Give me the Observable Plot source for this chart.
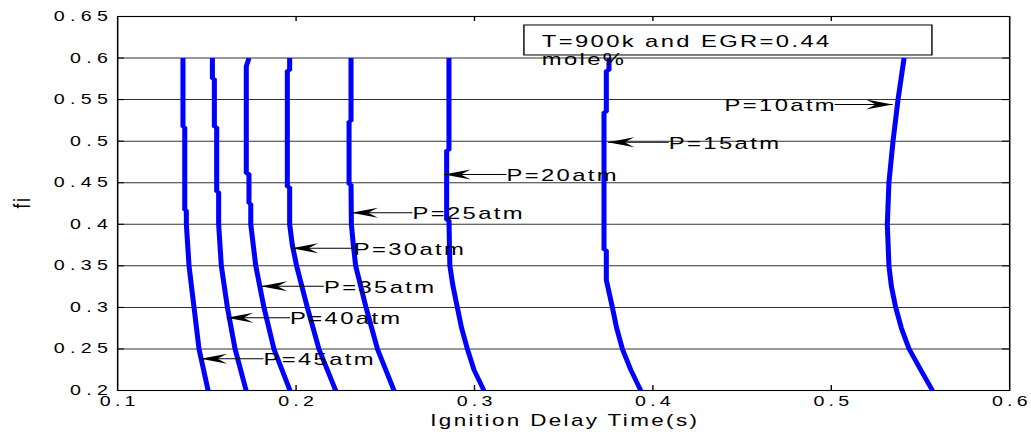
<!DOCTYPE html>
<html><head><meta charset="utf-8">
<script src="https://cdn.jsdelivr.net/npm/d3@7"></script>
<script src="https://cdn.jsdelivr.net/npm/@observablehq/plot@0.6"></script>
<style>
body{margin:0;background:#fff;overflow:hidden;}
#chart svg{display:block;}
#chart text{letter-spacing:1.7px;}
#chart g[aria-label="y-axis tick label"] text{letter-spacing:3.8px;}
#chart g[aria-label="x-axis tick label"] text{letter-spacing:3px;}
#chart g[aria-label="axis-title"] text{letter-spacing:1.7px;}
</style></head><body><div id="chart"></div>
<script>
// ---- data ----
const seriesNames = ["P=10atm","P=15atm","P=20atm","P=25atm","P=30atm","P=35atm","P=40atm","P=45atm"];

const phi10 = [0.6,0.55,0.5,0.45,0.4,0.35,0.325,0.3,0.275,0.25,0.225,0.2];
const tau10 = [0.5408,0.5374,0.5346,0.5323,0.5314,0.5323,0.5337,0.5361,0.5393,0.5436,0.5501,0.5567];

const phi15 = [0.6,0.585,0.585,0.535,0.535,0.369,0.369,0.333,0.3,0.275,0.25,0.225,0.2];
const tau15 = [0.3754,0.3754,0.3739,0.3739,0.3726,0.3726,0.3739,0.3739,0.3773,0.3797,0.3829,0.3876,0.3932];

const phi20 = [0.6,0.489,0.489,0.405,0.405,0.35,0.325,0.3,0.275,0.25,0.225,0.2];
const tau20 = [0.2857,0.2857,0.2844,0.2844,0.2857,0.2862,0.2880,0.2904,0.2928,0.2960,0.2997,0.3053];

const phi25 = [0.6,0.524,0.524,0.448,0.448,0.4,0.375,0.35,0.3,0.25,0.2];
const tau25 = [0.2308,0.2308,0.2297,0.2297,0.2308,0.2310,0.2321,0.2334,0.2392,0.2456,0.2549];

const phi30 = [0.6,0.585,0.585,0.445,0.445,0.4,0.375,0.35,0.3,0.25,0.2];
const tau30 = [0.1964,0.1964,0.1951,0.1951,0.1964,0.1964,0.1979,0.2003,0.2063,0.2128,0.2222];

const phi35 = [0.6,0.59,0.461,0.461,0.425,0.425,0.4,0.35,0.3,0.25,0.2];
const tau35 = [0.1736,0.1721,0.1721,0.1736,0.1736,0.1746,0.1746,0.1774,0.1820,0.1876,0.1966];

const phi40 = [0.6,0.575,0.575,0.517,0.517,0.439,0.439,0.4,0.35,0.3,0.25,0.2];
const tau40 = [0.1531,0.1531,0.1542,0.1542,0.1555,0.1555,0.1566,0.1566,0.1581,0.1615,0.1658,0.1720];

const phi45 = [0.6,0.517,0.517,0.417,0.417,0.4,0.35,0.3,0.25,0.2];
const tau45 = [0.1366,0.1366,0.1376,0.1376,0.1385,0.1385,0.1400,0.1428,0.1456,0.1507];

// annotations: arrow tip (on curve), arrow/label y, label start (or end for right-pointing)
const annTipX  = [0.5344,0.3747,0.2829,0.2310,0.1975,0.1802,0.1611,0.1465];
const annY     = [0.5441,0.4988,0.4599,0.4138,0.3712,0.3255,0.2875,0.2381];
const annTextX = [0.5019,0.4089,0.3179,0.2652,0.2323,0.2156,0.1966,0.1817];

// text box
const boxX = [0.3281,0.5568];
const boxY = [0.6031,0.6392];
const boxTextX = 0.3377;
const boxTextY = 0.6099;
const boxText = "T=900k and EGR=0.44\nmole%";

// axes
const xTicks = [0.1,0.2,0.3,0.4,0.5,0.6];
const xTickLabels = ["0.1","0.2","0.3","0.4","0.5","0.6"];
const yTicks = [0.2,0.25,0.3,0.35,0.4,0.45,0.5,0.55,0.6,0.65];
const yTickLabels = ["0.2","0.25","0.3","0.35","0.4","0.45","0.5","0.55","0.6","0.65"];
const xInner = [0.2,0.3,0.4,0.5];
const yInner = [0.25,0.3,0.35,0.4,0.45,0.5,0.55,0.6];
const xLabel = "Ignition Delay Time(s)";
const yLabel = "fi";

// ---- build tables ----
const phis = [phi10,phi15,phi20,phi25,phi30,phi35,phi40,phi45];
const taus = [tau10,tau15,tau20,tau25,tau30,tau35,tau40,tau45];
const rows = [];
seriesNames.forEach((s,k)=>phis[k].forEach((p,i)=>rows.push({series:s, phi:p, tau:taus[k][i]})));
const ann = seriesNames.map((s,i)=>({label:s, tipX:annTipX[i], y:annY[i], textX:annTextX[i], right: annTextX[i] < annTipX[i]}));
const annL = ann.filter(d=>!d.right), annR = ann.filter(d=>d.right);
const box = [{x1:boxX[0], x2:boxX[1], y1:boxY[0], y2:boxY[1]}];

const headLeft = {draw(c){c.moveTo(0,0);c.lineTo(19,-5);c.lineTo(12,0);c.lineTo(19,5);c.closePath();}};
const headRight = {draw(c){c.moveTo(0,0);c.lineTo(-19,-5);c.lineTo(-12,0);c.lineTo(-19,5);c.closePath();}};

const W = 736, H = 434, OUTW = 1031;
const font = "'Liberation Sans', Arial, Helvetica, sans-serif";

const svg = Plot.plot({
  width: W, height: H,
  marginLeft: 83.5, marginRight: 15.7, marginTop: 16, marginBottom: 44,
  x: {domain: [0.1, 0.6]},
  y: {domain: [0.2, 0.65]},
  style: {fontFamily: font, background: "#fff", color: "#000", overflow: "visible"},
  marks: [
    Plot.gridY(yInner, {stroke: "#333", strokeOpacity: 1, strokeWidth: 1}),
    Plot.axisY({ticks: yTicks, tickSize: 0, tickPadding: 3.2, fontSize: 14, label: null,
      tickFormat: d => yTickLabels[yTicks.indexOf(d)]}),
    Plot.axisX({ticks: xTicks, tickSize: 0, tickPadding: 6, fontSize: 14, label: null, dx: 1.5,
      tickFormat: d => xTickLabels[xTicks.indexOf(d)]}),
    Plot.ruleX(xInner, {x: d => d, y1: 0.2, y2: 0.2, insetTop: -5, stroke: "#000"}),
    Plot.ruleX(xInner, {x: d => d, y1: 0.65, y2: 0.65, insetBottom: -5, stroke: "#000"}),
    Plot.ruleY(yInner, {y: d => d, x1: 0.1, x2: 0.1, insetRight: -5, stroke: "#000"}),
    Plot.ruleY(yInner, {y: d => d, x1: 0.6, x2: 0.6, insetLeft: -5, stroke: "#000"}),
    Plot.frame({stroke: "#000", strokeWidth: 1.1}),
    Plot.line(rows, {x: "tau", y: "phi", z: "series", stroke: "#0000ff", strokeWidth: 3.6, strokeLinecap: "butt", strokeLinejoin: "miter", curve: "linear"}),
    Plot.rect(box, {x1: "x1", x2: "x2", y1: "y1", y2: "y2", fill: "#fff", stroke: "#000", strokeWidth: 1}),
    Plot.text([boxText], {x: boxTextX, y: boxTextY, text: d => d, textAnchor: "start", fontSize: 17, lineHeight: 1.08, fill: "#000"}),
    Plot.link(ann, {x1: "textX", x2: "tipX", y1: "y", y2: "y", stroke: "#000", strokeWidth: 1}),
    Plot.dot(annL, {x: "tipX", y: "y", symbol: headLeft, fill: "#000", stroke: "none", r: 5}),
    Plot.dot(annR, {x: "tipX", y: "y", symbol: headRight, fill: "#000", stroke: "none", r: 5}),
    Plot.text(annL, {x: "textX", y: "y", text: "label", textAnchor: "start", fontSize: 17, dy: 1, fill: "#000"}),
    Plot.text(annR, {x: "textX", y: "y", text: "label", textAnchor: "end", fontSize: 17, dy: 1, dx: 1.7, fill: "#000"}),
    Plot.text([xLabel], {frameAnchor: "bottom", text: d => d, dy: 35, dx: 0.8, fontSize: 16, fill: "#000", ariaLabel: "axis-title"}),
    Plot.text([yLabel], {frameAnchor: "left", text: d => d, rotate: -90, dx: -68, dy: 5, fontSize: 17, fill: "#000", ariaLabel: "axis-title"})
  ]
});
svg.setAttribute("width", OUTW);
svg.setAttribute("height", H);
svg.setAttribute("preserveAspectRatio", "none");
svg.style.width = OUTW + "px";
svg.style.height = H + "px";
svg.style.maxWidth = "none";
document.getElementById("chart").appendChild(svg);
</script>
</body></html>
